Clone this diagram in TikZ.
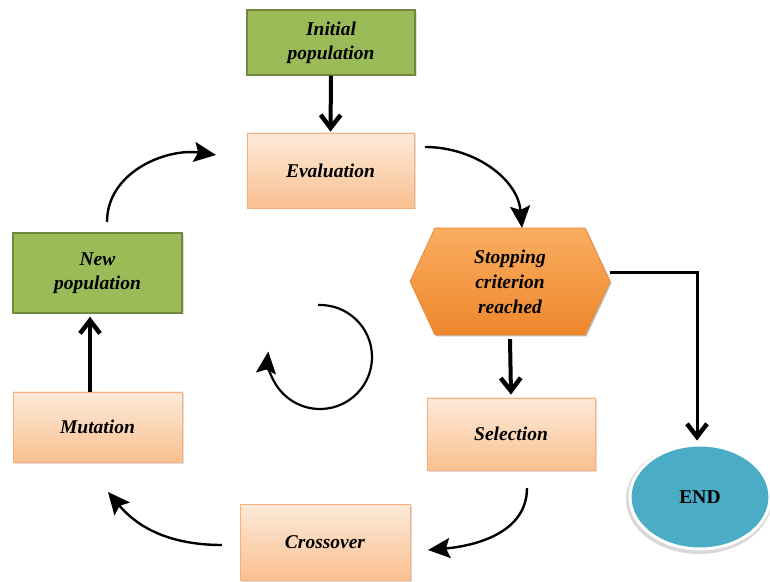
\documentclass[tikz,border=0pt]{standalone}
\usepackage{fontspec}
\setmainfont{Liberation Serif}
\usetikzlibrary{arrows.meta,shapes.geometric,shadows,calc}
\definecolor{grfill}{HTML}{9BBB59}
\definecolor{grline}{HTML}{71893F}
\definecolor{pctop}{HTML}{FDEADA}
\definecolor{pcbot}{HTML}{FAC090}
\definecolor{pcline}{HTML}{F8B07A}
\definecolor{ortop}{HTML}{FAAE60}
\definecolor{orbot}{HTML}{EE872C}
\definecolor{orline}{HTML}{E88B35}
\definecolor{endfill}{HTML}{4BACC6}
\tikzset{
  lbl/.style={font=\fontsize{19.5}{24}\selectfont\bfseries\itshape, align=center},
  boxshadow/.style={drop shadow={shadow xshift=1.5pt, shadow yshift=-1.5pt, opacity=0.25}},
  greenbox/.style={lbl, rectangle, fill=grfill, draw=grline, line width=1.5pt, boxshadow},
  peachbox/.style={lbl, rectangle, top color=pctop, bottom color=pcbot, draw=pcline, line width=0.8pt, boxshadow},
  barbtip/.style={-{Straight Barb[length=13pt, width=20pt, line width=4.5pt]}},
  straightarrow/.style={line width=4pt, barbtip},
  stealthtip/.style={-{Stealth[length=22pt, width=20pt, inset=4pt]}},
  curvearrow/.style={line width=2.4pt, stealthtip}
}
\begin{document}
\begin{tikzpicture}[x=1pt, y=1pt]
\useasboundingbox (0,0) rectangle (770,581);

% process boxes
\node[greenbox, minimum width=168pt, minimum height=65pt] (init) at (331,538.5) {Initial\\population};
\node[peachbox, minimum width=167pt, minimum height=75pt] (eval) at (330.5,410.5) {Evaluation};
\node[peachbox, minimum width=168pt, minimum height=72pt] (sel) at (511,147) {Selection};
\node[peachbox, minimum width=170pt, minimum height=76pt] (cross) at (325,39) {Crossover};
\node[peachbox, minimum width=169pt, minimum height=70pt] (mut) at (97.5,154) {Mutation};
\node[greenbox, minimum width=169pt, minimum height=80pt] (newpop) at (97.5,308) {New\\population};

% decision hexagon
\coordinate (hexc) at (510,299.5);
\fill[black, opacity=0.25]
  ($(hexc)+(-98.5,-1.5)$) -- ($(hexc)+(-73.5,52)$) -- ($(hexc)+(76.5,52)$) --
  ($(hexc)+(101.5,-1.5)$) -- ($(hexc)+(76.5,-55)$) -- ($(hexc)+(-73.5,-55)$) -- cycle;
\shade[top color=ortop, bottom color=orbot, draw=orline, line width=0.8pt]
  ($(hexc)+(-100,0)$) -- ($(hexc)+(-75,53.5)$) -- ($(hexc)+(75,53.5)$) --
  ($(hexc)+(100,0)$) -- ($(hexc)+(75,-53.5)$) -- ($(hexc)+(-75,-53.5)$) -- cycle;
\node[lbl, font=\fontsize{19.5}{25}\selectfont\bfseries\itshape, minimum width=200pt, minimum height=107pt] (hex) at (hexc) {Stopping\\criterion\\reached};

% terminal with its grey halo
\fill[black!25, opacity=0.6] (699,82) ellipse[x radius=73pt, y radius=55pt];
\node[ellipse, fill=endfill, draw=white, line width=3pt, minimum width=140pt, minimum height=104pt,
      font=\fontsize{19.5}{24}\selectfont\bfseries] (end) at (700,84) {END};

% straight connectors
\draw[straightarrow] (init.south) -- ([yshift=1pt]eval.north);
\draw[straightarrow] ([yshift=-4pt]hex.south) -- ([yshift=3pt]sel.north);
\draw[straightarrow] ([xshift=-7.5pt]mut.north) -- ([xshift=-7.5pt, yshift=-3pt]newpop.south);
\draw[line width=3pt, barbtip]
  ([yshift=9pt]hex.east) -| ([xshift=-3pt, yshift=3pt]end.north);

% cycle arrows
\coordinate (c1s) at (425,434);
\coordinate (c1e) at (522,353);
\draw[curvearrow] (c1s) to[out=0, in=95] (c1e);
\coordinate (c2s) at (527,93);
\coordinate (c2e) at (428,31);
\draw[curvearrow] (c2s) to[out=-90, in=5] (c2e);
\coordinate (c3s) at (222,36);
\coordinate (c3e) at (108,89);
\draw[curvearrow] (c3s) to[out=180, in=-50] (c3e);
\coordinate (c4s) at (107,359);
\coordinate (c4e) at (216,426);
\draw[curvearrow] (c4s) to[out=90, in=172] (c4e);

% central rotation arrow
\coordinate (rot) at (320,224);
\draw[line width=2.2pt, stealthtip]
  ($(rot)+(92:52)$) arc[start angle=92, end angle=-186, radius=52];
\end{tikzpicture}
\end{document}
